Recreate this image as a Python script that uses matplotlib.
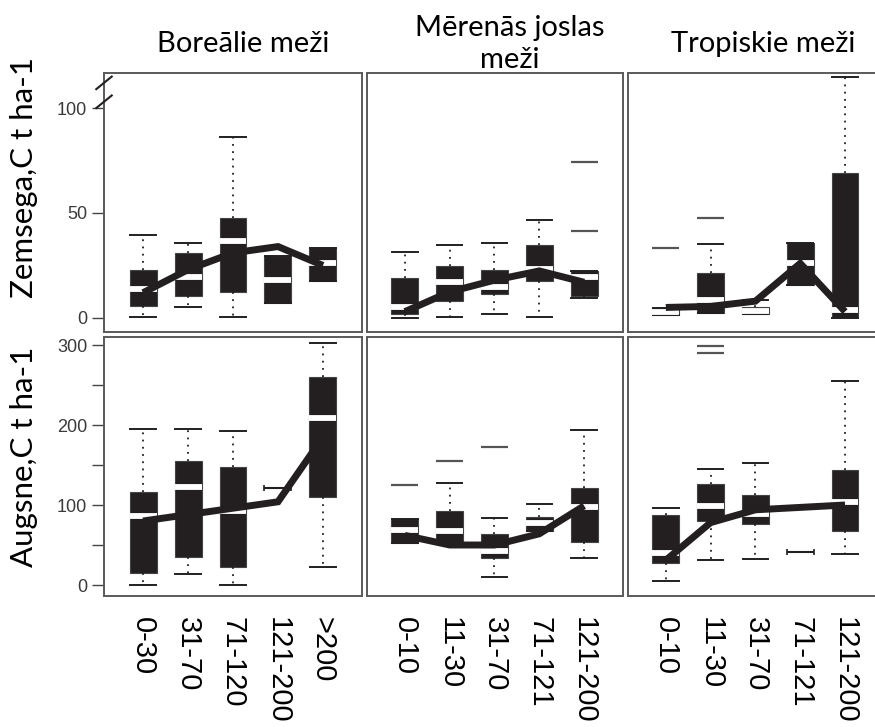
import matplotlib
matplotlib.use("Agg")
import matplotlib.pyplot as plt
from matplotlib.transforms import blended_transform_factory

# ---------------- data ----------------
titles = ["Boreālie meži", "Mērenās joslas\nmeži", "Tropiskie meži"]
xlabels_boreal = ["0-30", "31-70", "71-120", "121-200", ">200"]
xlabels_temperate = ["0-10", "11-30", "31-70", "71-121", "121-200"]
xlabels_tropical = ["0-10", "11-30", "31-70", "71-121", "121-200"]
row_labels = ["Zemsega,C t ha-1", "Augsne,C t ha-1"]

# box stats per age class: [whisker low, Q1, median, Q3, whisker high]
zem_boreal_box = [[0.5, 5.7, 13.8, 22.9, 39.5],
                  [5.2, 10.5, 19.5, 31.0, 35.7],
                  [0.5, 12.4, 36.7, 47.6, 86.0],
                  [7.0, 7.0, 18.0, 29.5, 29.5],
                  [17.6, 17.6, 26.0, 33.3, 33.3]]
zem_boreal_mean = [12, 23, 31, 34, 25]
zem_boreal_out = [[], [], [], [], []]

zem_temperate_box = [[0.0, 2.0, 5.0, 19.0, 31.4],
                     [0.5, 8.0, 17.0, 24.7, 34.8],
                     [1.9, 11.4, 14.9, 22.9, 35.7],
                     [0.6, 17.6, 23.3, 34.8, 46.7],
                     [9.5, 10.5, 19.5, 22.4, 22.4]]
zem_temperate_mean = [3, 12.4, 18, 22.4, 17]
zem_temperate_out = [[], [], [], [], [41.4, 74.3]]

zem_tropical_box = [[1.5, 1.5, 3.0, 4.5, 4.5],
                    [2.4, 2.4, 8.6, 21.4, 35.2],
                    [2.0, 2.0, 3.5, 5.0, 8.5],
                    [15.7, 15.7, 26.0, 35.7, 35.7],
                    [0.0, 0.5, 3.8, 69.0, 114.8]]
zem_tropical_mean = [5, 5.5, 8, 26, 3]
zem_tropical_out = [[33.3], [47.6], [], [], []]

aug_boreal_box = [[0, 15, 86, 116, 195],
                  [14, 35, 122, 155, 195],
                  [0, 22, 93, 147, 192],
                  [121, 121, 121, 121, 121],
                  [22, 110, 209, 260, 302]]
aug_boreal_mean = [80, 88, 96, 104, 185]
aug_boreal_out = [[], [], [], [], []]

aug_temperate_box = [[52, 52, 69, 83, 83],
                     [52, 52, 68, 92, 128],
                     [10, 34, 43, 64, 84],
                     [67, 67, 78, 85, 101],
                     [34, 54, 98, 121, 194]]
aug_temperate_mean = [62, 50, 50, 64, 99]
aug_temperate_out = [[125], [155], [172], [], []]

aug_tropical_box = [[5, 28, 40, 87, 96],
                    [31, 80, 99, 126, 145],
                    [33, 76, 89, 112, 152],
                    [41, 41, 41, 41, 41],
                    [39, 67, 104, 144, 255]]
aug_tropical_mean = [31, 78, 94, 97, 100]
aug_tropical_out = [[], [290, 299], [], [], []]

# ---------------- layout ----------------
W, H = 875, 727
fig = plt.figure(figsize=(W / 100, H / 100), dpi=100)

def fx(px):
    return px / W

def fy(py):
    return 1 - py / H

cols_px = [(104, 362), (367, 623), (628, 880)]
rows_px = [(73, 332), (337, 596)]
xlims = [(0.133, 5.867), (0.156, 5.867), (0.156, 5.78)]
ylims = [(-6.7, 116.7), (-13.75, 310)]

panels = [
    [(zem_boreal_box, zem_boreal_mean, zem_boreal_out),
     (zem_temperate_box, zem_temperate_mean, zem_temperate_out),
     (zem_tropical_box, zem_tropical_mean, zem_tropical_out)],
    [(aug_boreal_box, aug_boreal_mean, aug_boreal_out),
     (aug_temperate_box, aug_temperate_mean, aug_temperate_out),
     (aug_tropical_box, aug_tropical_mean, aug_tropical_out)],
]
xlabel_sets = [xlabels_boreal, xlabels_temperate, xlabels_tropical]

BLACK = "#231f20"
FRAME = "#5a5a5a"
bw = 0.6

for r in range(2):
    for c in range(3):
        x0, x1 = cols_px[c]
        y0, y1 = rows_px[r]
        ax = fig.add_axes([fx(x0), fy(y1), fx(x1 - x0), (y1 - y0) / H])
        boxes, means, outs = panels[r][c]
        positions = list(range(1, len(boxes) + 1))
        stats, pos_reg = [], []
        for p, b, o in zip(positions, boxes, outs):
            lo, q1, med, q3, hi = b
            if q1 == q3:
                ax.hlines(med, p - bw / 2, p + bw / 2, color=BLACK, lw=1.5, zorder=3)
                for e in (p - bw / 2, p + bw / 2):
                    ax.vlines(e, med - (ylims[r][1] - ylims[r][0]) * 0.012,
                              med + (ylims[r][1] - ylims[r][0]) * 0.012,
                              color=BLACK, lw=1.2, zorder=3)
            else:
                stats.append(dict(whislo=lo, q1=q1, med=med, q3=q3, whishi=hi, fliers=[]))
                pos_reg.append(p)
            for v in o:
                ax.hlines(v, p - bw / 2, p + bw / 2, color="#555555", lw=1.6, zorder=3)
        ax.bxp(stats, positions=pos_reg, widths=bw, capwidths=bw * 0.95,
               patch_artist=True, showfliers=False, manage_ticks=False,
               boxprops=dict(facecolor=BLACK, edgecolor="#444444", lw=0.8),
               medianprops=dict(color="white", lw=4.2, solid_capstyle="butt"),
               whiskerprops=dict(color=BLACK, lw=1.3, linestyle=(0, (1, 3))),
               capprops=dict(color=BLACK, lw=1.4))
        ax.plot(positions, means, color=BLACK, lw=5, solid_capstyle="butt",
                solid_joinstyle="miter", zorder=5)
        ax.set_xlim(*xlims[c])
        ax.set_ylim(*ylims[r])
        for s in ax.spines.values():
            s.set_color(FRAME)
            s.set_linewidth(1.4)
        ax.set_xticks(positions)
        if r == 1:
            ax.set_xticklabels(xlabel_sets[c], rotation=-90,
                               fontfamily="Liberation Sans", fontsize=21,
                               color="black")
            ax.tick_params(axis="x", length=0, pad=15)
        else:
            ax.set_xticklabels([])
            ax.tick_params(axis="x", length=0)
        if c == 0:
            if r == 0:
                ax.set_yticks([0, 50, 100])
                ax.set_yticklabels(["0", "50", "100"])
            else:
                ax.set_yticks([0, 50, 100, 150, 200, 250, 300])
                ax.set_yticklabels(["0", "", "100", "", "200", "", "300"])
            ax.tick_params(axis="y", length=9, width=1, color="#444444",
                           labelsize=13, labelcolor="#3a3a3a", pad=3)
            for lab in ax.get_yticklabels():
                lab.set_fontfamily("Liberation Sans")
        else:
            ax.set_yticks([])
        if r == 0 and c == 0:
            tr = blended_transform_factory(ax.transAxes, ax.transData)
            for v in (103, 112):
                ax.plot([-0.03, 0.03], [v - 3, v + 3], transform=tr,
                        color=BLACK, lw=1.5, clip_on=False, zorder=6)

# titles
title_x = [243, 510, 763]
for t, x in zip(titles, title_x):
    fig.text(fx(x), fy(44), t, ha="center", va="center", fontsize=21,
             fontfamily="Lato", color="black", linespacing=1.3)

# row labels
fig.text(fx(24), fy(178), row_labels[0], rotation=90, ha="center", va="center",
         fontsize=22.5, fontfamily="Lato", color="black")
fig.text(fx(24), fy(457), row_labels[1], rotation=90, ha="center", va="center",
         fontsize=22.5, fontfamily="Lato", color="black")

fig.savefig("out.png", dpi=100, facecolor="white")
